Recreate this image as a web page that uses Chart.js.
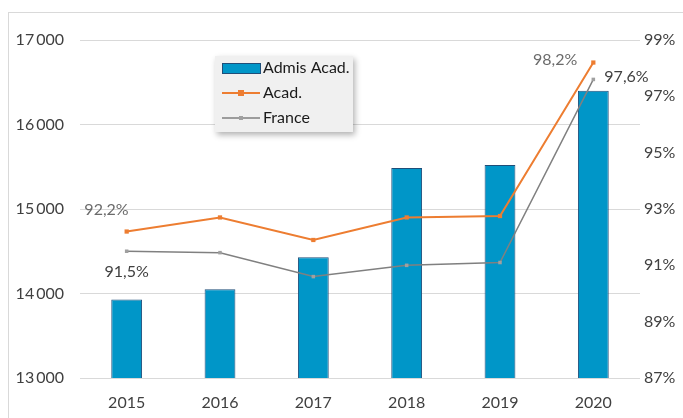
<!DOCTYPE html>
<html>
<head>
<meta charset="utf-8">
<script src="https://cdn.jsdelivr.net/npm/chart.js@4/dist/chart.umd.min.js"></script>
<style>
    body { margin: 0; background: #fff; overflow: hidden; }
    #frame { position: absolute; left: 8px; top: 12px; width: 760px; height: 440px; border: 1px solid #d9d9d9; }
    #wrap { position: absolute; left: 0; top: 0; width: 720px; height: 418px; }
</style>
</head>
<body>
<div id="frame"></div>
<div id="wrap"><canvas id="chart" width="720" height="418"></canvas></div>
<script>
const years = ['2015', '2016', '2017', '2018', '2019', '2020'];
const admisAcad = [13930, 14050, 14430, 15485, 15520, 16400];
const tauxAcad = [92.2, 92.7, 91.9, 92.7, 92.75, 98.2];
const tauxFrance = [91.5, 91.45, 90.6, 91.0, 91.1, 97.6];

const FONT = "Lato, 'Open Sans', sans-serif";

function fmtPct(v) {
    return v.toFixed(1).replace('.', ',') + '%';
}

const labelsPlugin = {
    id: 'endLabels',
    afterDatasetsDraw(chart) {
        const ctx = chart.ctx;
        const acad = chart.getDatasetMeta(1).data;
        const fr = chart.getDatasetMeta(2).data;
        const last = years.length - 1;
        ctx.save();
        ctx.font = '16px ' + FONT;
        ctx.textBaseline = 'middle';

        ctx.fillStyle = '#6b6b6b';
        ctx.textAlign = 'right';
        ctx.fillText(fmtPct(tauxAcad[0]), acad[0].x + 2, acad[0].y - 22);
        ctx.fillText(fmtPct(tauxAcad[last]), acad[last].x - 16, acad[last].y - 3);

        ctx.fillStyle = '#404040';
        ctx.textAlign = 'center';
        ctx.fillText(fmtPct(tauxFrance[0]), fr[0].x, fr[0].y + 21);
        ctx.textAlign = 'left';
        ctx.fillText(fmtPct(tauxFrance[last]), fr[last].x + 11, fr[last].y - 3);
        ctx.restore();
    }
};

const legendPlugin = {
    id: 'boxLegend',
    afterDraw(chart) {
        const ctx = chart.ctx;
        const x = 215, y = 56, w = 138, h = 76;
        ctx.save();
        ctx.shadowColor = 'rgba(0,0,0,0.3)';
        ctx.shadowBlur = 6;
        ctx.shadowOffsetX = 2;
        ctx.shadowOffsetY = 3;
        ctx.fillStyle = '#f0f0f0';
        ctx.fillRect(x, y, w, h);
        ctx.restore();

        ctx.save();
        ctx.font = '16px ' + FONT;
        ctx.textBaseline = 'middle';

        ctx.fillStyle = '#0096c8';
        ctx.strokeStyle = '#1f4e79';
        ctx.lineWidth = 1;
        ctx.fillRect(222, 63, 38, 10);
        ctx.strokeRect(222.5, 63.5, 38, 10);

        ctx.strokeStyle = '#ed7d31';
        ctx.lineWidth = 2;
        ctx.beginPath(); ctx.moveTo(222, 93); ctx.lineTo(260, 93); ctx.stroke();
        ctx.fillStyle = '#ed7d31';
        ctx.fillRect(238, 90, 6, 6);

        ctx.strokeStyle = '#808080';
        ctx.lineWidth = 1.5;
        ctx.beginPath(); ctx.moveTo(222, 118); ctx.lineTo(260, 118); ctx.stroke();
        ctx.fillStyle = '#a0a0a0';
        ctx.fillRect(239, 116, 4, 4);

        ctx.fillStyle = '#1a1a1a';
        ctx.fillText('Admis Acad.', 263, 68);
        ctx.fillText('Acad.', 263, 93);
        ctx.fillText('France', 263, 118);
        ctx.restore();
    }
};

new Chart(document.getElementById('chart'), {
    type: 'bar',
    data: {
        labels: years,
        datasets: [
            {
                label: 'Admis Acad.',
                data: admisAcad,
                yAxisID: 'y',
                backgroundColor: '#0096c8',
                borderColor: '#1f4e79',
                borderWidth: 1,
                barPercentage: 0.33,
                categoryPercentage: 1,
                order: 3
            },
            {
                type: 'line',
                label: 'Acad.',
                data: tauxAcad,
                yAxisID: 'y1',
                borderColor: '#ed7d31',
                backgroundColor: '#ed7d31',
                borderWidth: 2,
                pointStyle: 'rect',
                pointRadius: 3,
                pointBorderWidth: 0,
                tension: 0,
                order: 1
            },
            {
                type: 'line',
                label: 'France',
                data: tauxFrance,
                yAxisID: 'y1',
                borderColor: '#808080',
                backgroundColor: '#a0a0a0',
                borderWidth: 1.5,
                pointStyle: 'rect',
                pointRadius: 2.5,
                pointBorderWidth: 0,
                tension: 0,
                order: 2
            }
        ]
    },
    options: {
        responsive: false,
        animation: false,
        layout: { padding: { top: 40, left: 0, right: 0, bottom: 0 } },
        plugins: {
            legend: { display: false },
            tooltip: { enabled: false }
        },
        scales: {
            x: {
                grid: { display: false },
                border: { display: false },
                ticks: { color: '#404040', font: { family: FONT, size: 16 }, padding: 7 },
                afterFit: s => { s.height = 40; }
            },
            y: {
                position: 'left',
                min: 13000,
                max: 17000,
                ticks: {
                    stepSize: 1000,
                    color: '#404040',
                    font: { family: FONT, size: 16 },
                    padding: 16,
                    callback: v => String(v).replace(/(\d)(\d{3})$/, '$1\u2009$2')
                },
                grid: { color: '#d9d9d9', drawTicks: false },
                border: { display: false },
                afterFit: s => { s.width = 80; }
            },
            y1: {
                position: 'right',
                min: 87,
                max: 99,
                ticks: {
                    stepSize: 2,
                    color: '#404040',
                    font: { family: FONT, size: 16 },
                    padding: -4,
                    callback: v => v + '%'
                },
                grid: { display: false },
                border: { display: false },
                afterFit: s => { s.width = 80; }
            }
        }
    },
    plugins: [labelsPlugin, legendPlugin]
});
</script>
</body>
</html>
